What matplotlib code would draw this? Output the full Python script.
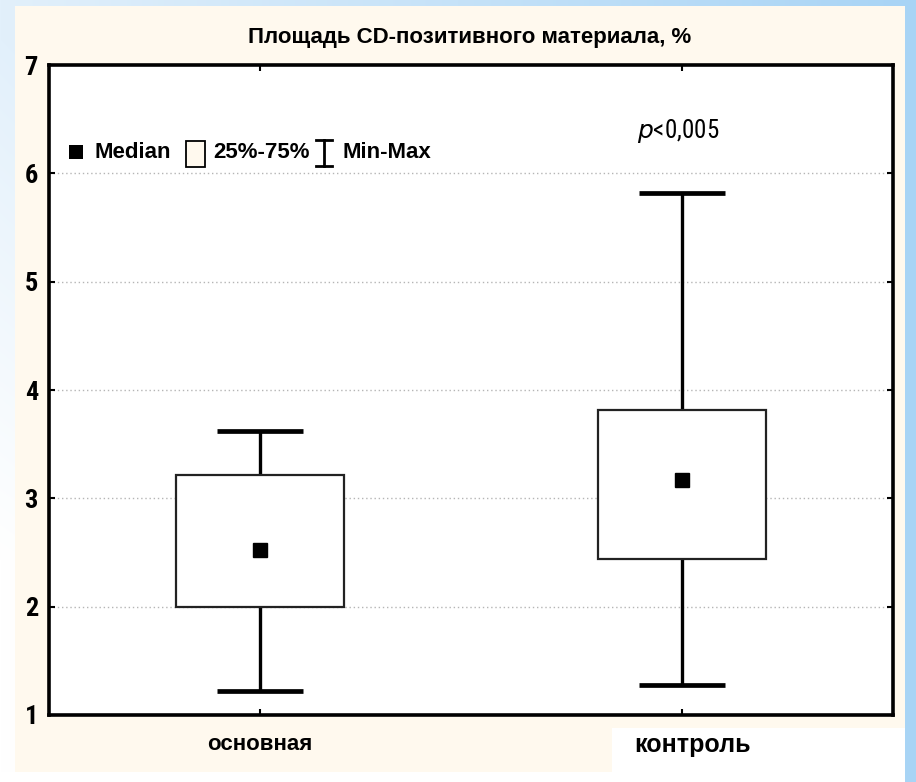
import numpy as np
import matplotlib.pyplot as plt
from matplotlib import font_manager
from matplotlib.patches import Rectangle

# data
groups = ['основная', 'контроль']
medians = [2.52, 3.17]
q1 = [2.00, 2.44]
q3 = [3.22, 3.82]
mins = [1.22, 1.28]
maxs = [3.62, 5.82]
yticks = [1, 2, 3, 4, 5, 6, 7]

W, H = 916, 782

# condensed face for digits, if one is around
names = {f.name for f in font_manager.fontManager.ttflist}
narrow = next((n for n in ['Liberation Sans Narrow', 'Arial Narrow', 'Roboto Condensed']
               if n in names), 'Liberation Sans')
NF = dict(family=[narrow, 'DejaVu Sans'])
AF = dict(family=['Liberation Sans', 'DejaVu Sans'])

fig = plt.figure(figsize=(W / 100, H / 100), dpi=100)


def fx(px):
    return px / W


def fy(py):
    return 1 - py / H


# slide background: pale blue gradient behind a cream panel
xx = np.linspace(0, 1, W)[None, :]
yy = np.linspace(0, 1, H)[:, None]
c_left = np.array([226, 240, 251]) / 255
c_right = np.array([168, 212, 245]) / 255
bg = c_left[None, None, :] * (1 - xx[..., None]) + c_right[None, None, :] * xx[..., None]
fade = np.clip((yy - 0.05) * 1.5, 0, 1)[..., None] * np.clip(1 - xx * 1.2, 0, 1)[..., None]
bg = bg * (1 - fade) + fade * 1.0
bg[int(0.988 * H):, :int(0.988 * W)] = 1.0
fig.figimage(bg, zorder=-10)
fig.patches.append(Rectangle((fx(15), fy(772)), fx(905 - 15), fy(6) - fy(772),
                             transform=fig.transFigure, facecolor='#FFF9EE', edgecolor='none', zorder=-5))
fig.patches.append(Rectangle((fx(612), fy(772)), fx(905 - 612), fy(728) - fy(772),
                             transform=fig.transFigure, facecolor='white', edgecolor='none', zorder=-4))

ax = fig.add_axes([fx(49), fy(715), fx(893 - 49), fy(65) - fy(715)])
ax.set_facecolor('white')
x = np.arange(len(groups))

# grid
for v in yticks[1:-1]:
    ax.axhline(v, color='#B5B5B5', lw=1, ls=(0, (1, 2)), zorder=0)

# boxes, whiskers, caps, medians
ax.bar(x, np.array(q3) - np.array(q1), bottom=q1, width=0.4, color='white',
       edgecolor='#222222', linewidth=1.6, zorder=2)
ax.vlines(x, q3, maxs, color='black', lw=2.4, zorder=1)
ax.vlines(x, mins, q1, color='black', lw=2.4, zorder=1)
ax.hlines(maxs, x - 0.102, x + 0.102, color='black', lw=3.4, zorder=3)
ax.hlines(mins, x - 0.102, x + 0.102, color='black', lw=3.4, zorder=3)
ax.plot(x, medians, ls='none', marker='s', ms=10, color='black', zorder=4)

ax.set_xlim(-0.5, 1.5)
ax.set_ylim(1, 7)
for s in ax.spines.values():
    s.set_linewidth(2.6)
ax.set_yticks(yticks)
ax.set_xticks(x)
ax.tick_params(axis='both', direction='in', length=4, width=1.5, pad=8,
               left=True, right=True, top=True, bottom=True)
ax.set_yticklabels([str(v) for v in yticks], fontsize=19, fontweight='bold', **NF)
ax.set_xticklabels([])

# category labels
fig.text(fx(260), fy(745), groups[0], ha='center', va='center', fontsize=16,
         fontweight='bold', **AF)
fig.text(fx(693), fy(745), groups[1], ha='center', va='center', fontsize=18,
         fontweight='bold', **AF)

# title
fig.text(fx(470), fy(37), 'Площадь CD-позитивного материала, %', ha='center', va='center',
         fontsize=16, fontweight='bold', **AF)

# p-value
fig.text(fx(678), fy(131), r'$\mathit{p}$' + '<0,005', ha='center', va='center',
         fontsize=18, **NF)

# legend
ly = fy(153)
fig.patches.append(Rectangle((fx(69), fy(159)), fx(14), fy(145) - fy(159),
                             transform=fig.transFigure, facecolor='black', edgecolor='none'))
fig.text(fx(95), ly, 'Median', ha='left', va='center', fontsize=16, fontweight='bold', **AF)
fig.patches.append(Rectangle((fx(186), fy(167)), fx(19), fy(141) - fy(167),
                             transform=fig.transFigure, facecolor='#FFF9EE', edgecolor='black', lw=1.3))
fig.text(fx(213), ly, '25%-75%', ha='left', va='center', fontsize=16, fontweight='bold', **AF)
fig.lines.append(plt.Line2D([fx(324), fx(324)], [fy(140), fy(166)], transform=fig.transFigure,
                            color='black', lw=2))
fig.lines.append(plt.Line2D([fx(316), fx(332)], [fy(140), fy(140)], transform=fig.transFigure,
                            color='black', lw=2))
fig.lines.append(plt.Line2D([fx(316), fx(332)], [fy(166), fy(166)], transform=fig.transFigure,
                            color='black', lw=2))
fig.text(fx(343), ly, 'Min-Max', ha='left', va='center', fontsize=16, fontweight='bold', **AF)

fig.savefig('out.png', dpi=100)
